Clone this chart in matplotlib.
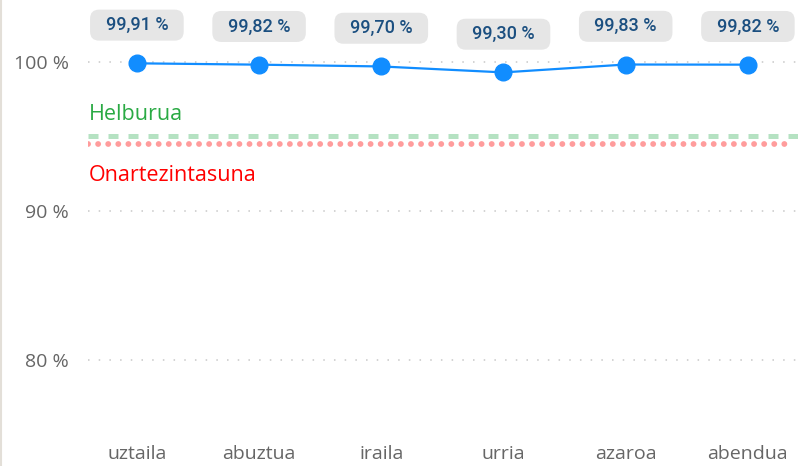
import matplotlib.pyplot as plt
from matplotlib.lines import Line2D

plt.rcParams['font.family'] = ['Open Sans', 'DejaVu Sans']

# datuak
months = ['uztaila', 'abuztua', 'iraila', 'urria', 'azaroa', 'abendua']
values = [99.91, 99.82, 99.70, 99.30, 99.83, 99.82]
target = 95.0
tolerance = 94.5
yticks = [80, 90, 100]

fig = plt.figure(figsize=(7.98, 4.66), dpi=100)
ax = fig.add_axes([88/798, 36/466, 710/798, 430/466])

x = range(len(months))

# erreferentzia lerroak
ax.axhline(target, color='#B5E2C2', lw=3.6, linestyle=(0, (2.0, 2.0)),
           dash_capstyle='butt', xmin=0, xmax=1)
ax.axhline(tolerance, color='#FF9C9C', lw=4.2, linestyle=(0, (0.01, 1.72)),
           dash_capstyle='round', xmin=0, xmax=0.995)
ax.text(0.0015, 96.5, 'Helburua', color='#2AAA44', fontsize=15.5,
        transform=ax.get_yaxis_transform(), va='center', ha='left')
ax.text(0.0015, 92.4, 'Onartezintasuna', color='#FF0000', fontsize=15.5,
        transform=ax.get_yaxis_transform(), va='center', ha='left')

# serie nagusia
ax.plot(x, values, color='#118DFF', lw=1.6, marker='o', markersize=12, zorder=5)

for xi, v in zip(x, values):
    ax.annotate('  ' + f'{v:.2f} %'.replace('.', ',') + '  ', xy=(xi, v), xytext=(0, 27.5),
                textcoords='offset points', ha='center', va='center',
                fontsize=13, color='#1B4F80', family=['Roboto', 'DejaVu Sans'],
                fontweight='medium', annotation_clip=False,
                bbox=dict(boxstyle='round,pad=0.36,rounding_size=0.5',
                          fc='#E6E6E6', ec='none'))

# ardatzak
ax.set_xlim(-0.4, 5.41)
ax.set_ylim(75.3, 104.16)
ax.set_xticks(list(x))
ax.set_xticklabels(months)
ax.set_yticks(yticks)
ax.set_yticklabels([f'{t} %' for t in yticks])
ax.tick_params(axis='both', length=0, labelsize=14, colors='#666666')
ax.tick_params(axis='y', pad=14)
ax.tick_params(axis='x', pad=11)
ax.grid(axis='y', color='#C8C8C8', lw=1.1, linestyle=(0, (1, 6)))
ax.set_axisbelow(True)
for s in ax.spines.values():
    s.set_visible(False)

fig.add_artist(Line2D([0.0015, 0.0015], [0, 1], color='#E3DFD8', lw=1.5))

fig.savefig('out.png', dpi=100)
